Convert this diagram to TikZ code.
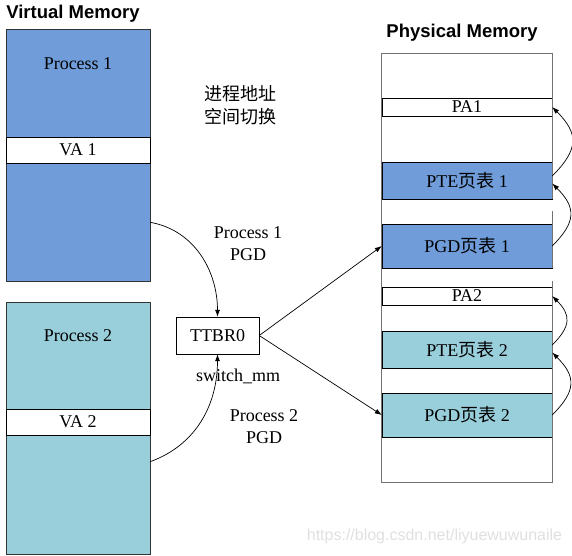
\documentclass[tikz,border=0pt]{standalone}
\usepackage{fontspec}
\setmainfont{Liberation Serif}
\newfontfamily\cjk{Noto Sans CJK SC}
\newfontfamily\headfont{Liberation Sans}
\usetikzlibrary{arrows.meta, calc}
\definecolor{procblue}{RGB}{112,157,217}
\definecolor{proccyan}{RGB}{153,206,219}
\tikzstyle{bblock} = [rectangle, draw=black!80, fill=procblue, minimum width=144pt, inner sep=0pt]
\tikzstyle{cblock} = [rectangle, draw=black!80, fill=proccyan, minimum width=144pt, inner sep=0pt]
\tikzstyle{wblock} = [rectangle, draw=black, fill=white, inner sep=0pt]
\tikzstyle{pblock} = [rectangle, draw=black, inner sep=0pt, minimum width=170pt]
\tikzstyle{title} = [font=\headfont\bfseries\fontsize{18.5}{22}\selectfont]
\tikzstyle{frame} = [draw=black!55, line width=1.1pt]
\tikzstyle{line} = [draw, line width=0.7pt, color=black, -{Latex[length=7pt, width=5pt]}]

\begin{document}
\begin{tikzpicture}[x=1pt, y=-1pt, font=\fontsize{18}{22}\selectfont]
    \useasboundingbox (0,0) rectangle (572,555);
    % Place nodes
    \node [title] (vtitle) at (73,14) {Virtual Memory};
    \node [title] (ptitle) at (462,33) {Physical Memory};
    \node [bblock, minimum height=252pt] (proc1) at (78,155) {};
    \node (proc1label) at (78,64) {Process 1};
    \node [wblock, minimum width=144pt, minimum height=26pt] (va1) at (78,150) {VA 1};
    \node [cblock, minimum height=252pt] (proc2) at (78,428) {};
    \node (proc2label) at (78,336) {Process 2};
    \node [wblock, minimum width=144pt, minimum height=26pt] (va2) at (78,422) {VA 2};
    \node [wblock, minimum width=83pt, minimum height=37pt] (ttbr) at (217.5,335.5) {TTBR0};
    \node [align=center, font=\cjk\fontsize{18}{23}\selectfont] (switchlabel) at (240,105) {进程地址\\空间切换};
    \node [align=center] (pgd1label) at (248,244) {Process 1\\PGD};
    \node (switchmm) at (238,376) {switch\_mm};
    \node [align=center] (pgd2label) at (264,427) {Process 2\\PGD};
    \node [minimum width=170pt, minimum height=428pt, inner sep=0pt] (pm) at (467,268) {};
    \node [pblock, fill=white, minimum height=18pt] (pa1) at (467,107) {PA1};
    \node [pblock, fill=procblue, minimum height=37pt] (pte1) at (467,180.5) {PTE{\cjk 页表} 1};
    \node [pblock, fill=procblue, minimum height=44pt] (pgd1) at (467,246) {PGD{\cjk 页表} 1};
    \node [pblock, fill=white, minimum height=18pt] (pa2) at (467,296) {PA2};
    \node [pblock, fill=proccyan, minimum height=37pt] (pte2) at (467,349.5) {PTE{\cjk 页表} 2};
    \node [pblock, fill=proccyan, minimum height=44pt] (pgd2) at (467,415) {PGD{\cjk 页表} 2};
    \node [font=\headfont\fontsize{16}{18}\selectfont, text=black!12] (mark) at (434.5,536) {https://blog.csdn.net/liyuewuwunaile};
    % Physical memory frame (right side is broken)
    \path [frame] (pte1.south east) -- (pm.north east) -- (pm.north west) -- (pm.south west) -- (pm.south east) -- ($(pgd1.south east)+(0,13)$);
    \path [frame] ($(pte1.south east)+(0,12)$) -- (pgd1.south east);
    % Draw edges
    \path [line] (proc1.-43) to[out=-10, in=90] (ttbr.north);
    \path [line] (proc2.-25) to[out=20, in=-90] (ttbr.south);
    \path [line] (ttbr.east) -- (pgd1.west);
    \path [line] (ttbr.east) -- (pgd2.west);
    \path [line] (pgd1.east) to[out=45, in=-45, looseness=1.4] (pte1.-2);
    \path [line] (pte1.3) to[out=45, in=-45, looseness=1.4] (pa1.east);
    \path [line] (pgd2.east) to[out=45, in=-45, looseness=1.4] (pte2.-2);
    \path [line] (pte2.3) to[out=45, in=-45, looseness=1.4] (pa2.east);
\end{tikzpicture}
\end{document}
